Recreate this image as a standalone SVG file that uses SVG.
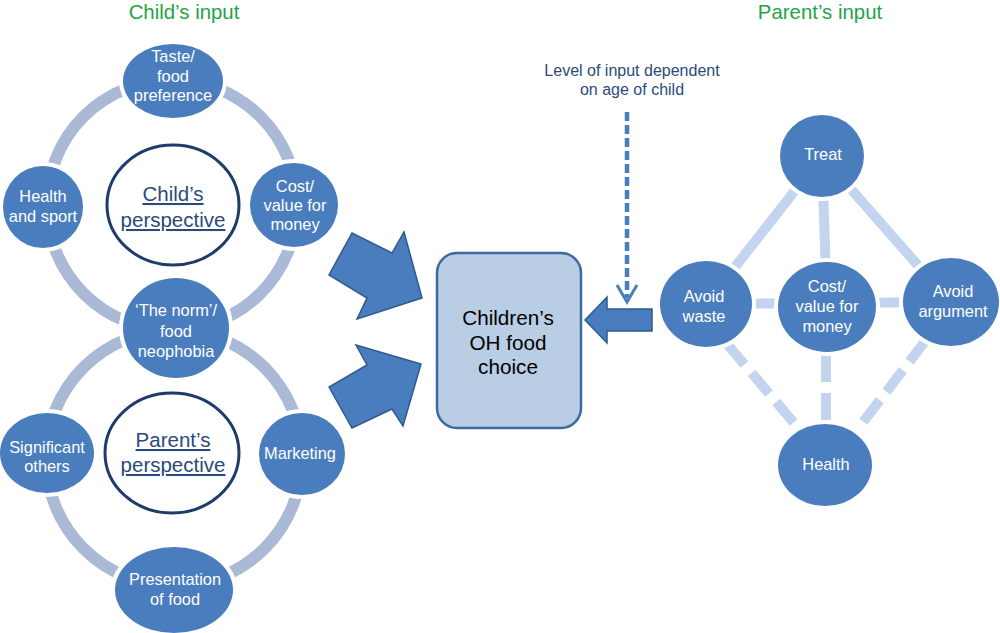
<svg xmlns="http://www.w3.org/2000/svg" width="1000" height="633" viewBox="0 0 1000 633">
<style>
text{font-family:"Liberation Sans",Arial,sans-serif;}
.node{fill:#4a7dbd;stroke:#ffffff;stroke-width:8;paint-order:stroke;}
.nt{fill:#ffffff;font-size:16.4px;text-anchor:middle;}
.ring{fill:none;stroke:#a9b9d6;stroke-width:12;}
.link{stroke:#c3d5ee;stroke-width:10;fill:none;}
.dash{stroke-dasharray:27 11;}
.persp{fill:#ffffff;stroke:#1f3b6b;stroke-width:3;}
.pt{fill:#2b4a7c;font-size:20.5px;text-anchor:middle;text-decoration:underline;}
.title{fill:#1fa447;font-size:20.4px;text-anchor:middle;}
.big{fill:#4a7dbd;stroke:#2f5a8f;stroke-width:1.5;stroke-linejoin:miter;}
</style>
<rect width="1000" height="633" fill="#ffffff"/>
<text class="title" x="184" y="19">Child’s input</text>
<text class="title" x="820" y="19">Parent’s input</text>

<g id="connectors">
<circle class="ring" cx="172" cy="205" r="125"/>
<circle class="ring" cx="174" cy="458" r="128"/>
<line class="link" x1="822" y1="156" x2="706" y2="304"/>
<line class="link" x1="822" y1="156" x2="827" y2="307"/>
<line class="link" x1="822" y1="156" x2="950" y2="302"/>
<line class="link" x1="706" y1="304" x2="950" y2="302"/>
<line class="link dash" x1="727" y1="344" x2="800" y2="430"/>
<line class="link dash" x1="826" y1="355" x2="826" y2="424"/>
<line class="link dash" x1="926" y1="340" x2="857" y2="430"/>
<polygon class="big" points="352,233 329,275 367,298 357,319 422,298 404,232 392,253"/>
<polygon class="big" points="329,387 352,428 392,409 403,426 421,364 356,345 367,365"/>
<polygon class="big" points="585,320 607,297 607,309 652,309 652,331 607,331 607,343"/>
<line x1="627" y1="112" x2="627" y2="298" stroke="#4a7dbd" stroke-width="4.5" stroke-dasharray="9 4"/>
<polyline points="617,285 627,302 637,285" fill="none" stroke="#4a7dbd" stroke-width="3"/>
</g>

<text x="632" y="76" fill="#2b4a7c" font-size="16" text-anchor="middle">Level of input dependent</text>
<text x="632" y="95" fill="#2b4a7c" font-size="16" text-anchor="middle">on age of child</text>

<g id="taste"><ellipse class="node" cx="173" cy="81" rx="50" ry="37"/>
<text class="nt" x="173" y="62">Taste/</text><text class="nt" x="173" y="82">food</text><text class="nt" x="173" y="101">preference</text></g>
<g id="health-sport"><ellipse class="node" cx="43" cy="207" rx="40" ry="41"/>
<text class="nt" x="43" y="202">Health</text><text class="nt" x="43" y="222">and sport</text></g>
<g id="cost-child"><ellipse class="node" cx="294" cy="205" rx="44" ry="42"/>
<text class="nt" x="295" y="192">Cost/</text><text class="nt" x="295" y="211">value for</text><text class="nt" x="295" y="230">money</text></g>
<g id="child-perspective"><ellipse class="persp" cx="173" cy="205" rx="66" ry="60"/>
<text class="pt" x="173" y="201">Child’s</text><text class="pt" x="173" y="227">perspective</text></g>
<g id="the-norm"><ellipse class="node" cx="176" cy="328" rx="53" ry="50"/>
<text class="nt" x="176" y="316">‘The norm’/</text><text class="nt" x="176" y="337">food</text><text class="nt" x="176" y="357">neophobia</text></g>
<g id="significant-others"><ellipse class="node" cx="47" cy="453" rx="47" ry="40"/>
<text class="nt" x="47" y="453">Significant</text><text class="nt" x="47" y="472">others</text></g>
<g id="parent-perspective"><ellipse class="persp" cx="172" cy="453" rx="67" ry="60"/>
<text class="pt" x="173" y="447">Parent’s</text><text class="pt" x="173" y="472">perspective</text></g>
<g id="marketing"><ellipse class="node" cx="302" cy="454" rx="43" ry="41"/>
<text class="nt" x="300" y="459">Marketing</text></g>
<g id="presentation"><ellipse class="node" cx="174" cy="590" rx="59" ry="43"/>
<text class="nt" x="175" y="585">Presentation</text><text class="nt" x="175" y="605">of food</text></g>

<g id="choice"><rect x="437" y="253" width="144" height="175" rx="20" fill="#b9cde5" stroke="#3f6aa0" stroke-width="2.5"/>
<text x="508" y="325" font-size="20.7" text-anchor="middle" fill="#000">Children’s</text>
<text x="508" y="350" font-size="20.7" text-anchor="middle" fill="#000">OH food</text>
<text x="508" y="374" font-size="20.7" text-anchor="middle" fill="#000">choice</text></g>

<g id="treat"><ellipse class="node" cx="822" cy="156" rx="42" ry="41"/>
<text class="nt" x="823" y="160">Treat</text></g>
<g id="avoid-waste"><ellipse class="node" cx="706" cy="304" rx="46" ry="43"/>
<text class="nt" x="704" y="302">Avoid</text><text class="nt" x="704" y="322">waste</text></g>
<g id="cost-parent"><ellipse class="node" cx="827" cy="307" rx="49" ry="45"/>
<text class="nt" x="827" y="292">Cost/</text><text class="nt" x="827" y="312">value for</text><text class="nt" x="827" y="332">money</text></g>
<g id="avoid-argument"><ellipse class="node" cx="951" cy="302" rx="48" ry="44"/>
<text class="nt" x="953" y="297">Avoid</text><text class="nt" x="953" y="317">argument</text></g>
<g id="health"><ellipse class="node" cx="825" cy="465" rx="47" ry="41"/>
<text class="nt" x="826" y="470">Health</text></g>
</svg>
